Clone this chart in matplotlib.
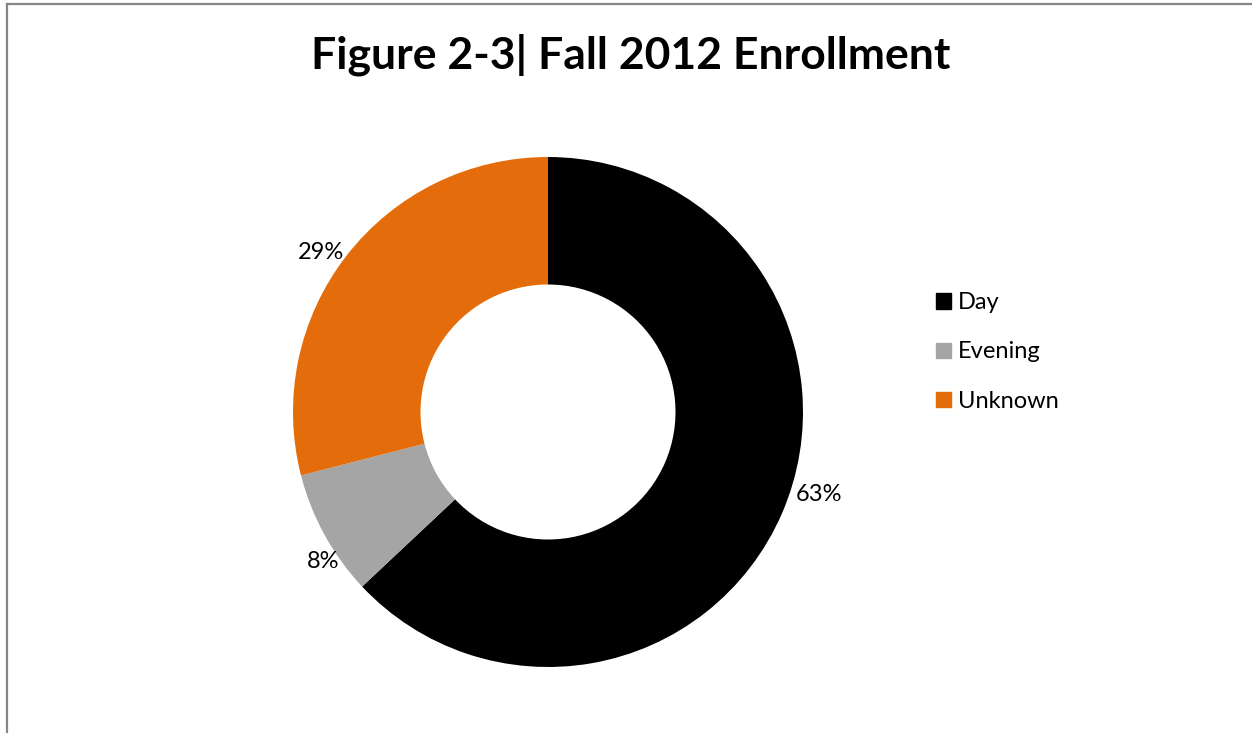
import numpy as np
import matplotlib.pyplot as plt
import matplotlib.patches as mpatches

plt.rcParams['font.family'] = ['Lato', 'DejaVu Sans']

categories = ['Day', 'Evening', 'Unknown']
shares = [63, 8, 29]
colors = ['#000000', '#a5a5a5', '#e46c0a']

fig = plt.figure(figsize=(12.52, 7.33), dpi=100)

# рамка диаграммы
fig.add_artist(plt.Line2D([7 / 1252, 7 / 1252], [0, 1 - 4 / 733], color='#868686', lw=1.6))
fig.add_artist(plt.Line2D([7 / 1252, 1], [1 - 4 / 733, 1 - 4 / 733], color='#868686', lw=1.6))

fig.text(631 / 1252, 1 - 55 / 733, 'Figure 2-3| Fall 2012 Enrollment',
         ha='center', va='center', fontsize=32, fontweight='bold')

ax = fig.add_axes([(548 - 255) / 1252, (733 - 412 - 255) / 733, 510 / 1252, 510 / 733])
wedges, texts = ax.pie(shares, colors=colors, startangle=90, counterclock=False,
                       wedgeprops=dict(width=0.5, linewidth=0))
ax.set_xlim(-1, 1)
ax.set_ylim(-1, 1)

# подписи процентов снаружи кольца
label_r = [1.11, 1.06, 1.09]
label_shift = [6.5, 4.9, 2.7]
for w, s, r, d in zip(wedges, shares, label_r, label_shift):
    ang = np.deg2rad((w.theta1 + w.theta2) / 2 + d)
    ax.text(r * np.cos(ang), r * np.sin(ang), f'{s}%', ha='center', va='center', fontsize=17)

handles = [mpatches.Patch(color=c, label=l) for c, l in zip(colors, categories)]
fig.legend(handles=handles, loc='center left', bbox_to_anchor=(915 / 1252, 1 - 352 / 733),
           frameon=False, fontsize=17, handlelength=0.62, handleheight=0.62,
           handletextpad=0.3, labelspacing=1.2)

fig.savefig('out.png', dpi=100)
